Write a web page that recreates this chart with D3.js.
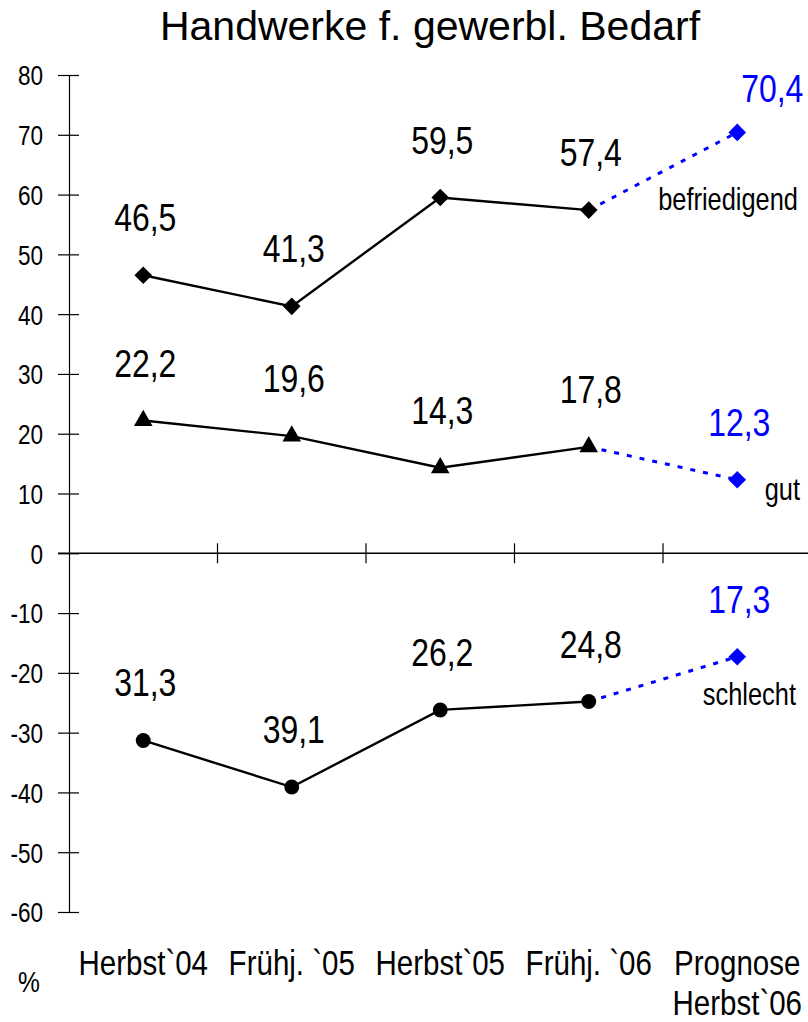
<!DOCTYPE html>
<html><head><meta charset="utf-8">
<script src="https://cdn.jsdelivr.net/npm/d3@7"></script>
<style>
html,body{margin:0;padding:0;background:#fff;}
svg{display:block;}
text{font-family:"Liberation Sans",Arial,sans-serif;}
</style></head>
<body>
<svg id="c" width="808" height="1022"></svg>
<script>
// ---- data ----
const title = "Handwerke f. gewerbl. Bedarf";
const categories = ["Herbst`04", "Frühj. `05", "Herbst`05", "Frühj. `06", "Prognose|Herbst`06"];
const seriesNames = ["befriedigend", "gut", "schlecht"];
const befriedigend = [46.5, 41.3, 59.5, 57.4, 70.4];
const gut = [22.2, 19.6, 14.3, 17.8, 12.3];
const schlecht = [-31.3, -39.1, -26.2, -24.8, -17.3];
const yTicks = [80, 70, 60, 50, 40, 30, 20, 10, 0, -10, -20, -30, -40, -50, -60];
const unitLabel = "%";

// ---- layout ----
const svg = d3.select("#c");
const W = 808;
const SX = 0.82; // narrow font emulation
const x = d3.scaleBand().domain(categories).range([69, 811.5]).paddingInner(0).paddingOuter(0);
const y = d3.scaleLinear().domain([-60, 80]).range([912, 75]);
const cx = c => x(c) + x.bandwidth() / 2;
const fmt = v => d3.format(".1f")(Math.abs(v)).replace(".", ",");

function ntext(parent, px, py, str, size, anchor, fill) {
  return parent.append("text")
    .attr("transform", `translate(${px},${py}) scale(${SX},1)`)
    .attr("text-anchor", anchor).attr("font-size", size).attr("fill", fill || "#000")
    .text(str);
}

const markerType = [
  d3.symbol().type(d3.symbolSquare).size(155),
  d3.symbol().type(d3.symbolTriangle).size(150),
  d3.symbol().type(d3.symbolCircle).size(175)
];
const markerRot = [45, 0, 0];
const blueDiamond = d3.symbol().type(d3.symbolSquare).size(155);

// title
svg.append("text").attr("x", 430).attr("y", 40).attr("text-anchor", "middle")
  .attr("font-size", 41).attr("fill", "#000").text(title);

// y axis
const yAxis = d3.axisLeft(y).tickValues(yTicks).tickSize(10).tickSizeOuter(0)
  .tickFormat(d => String(d));
const gy = svg.append("g").attr("transform", "translate(69,0)").call(yAxis);
gy.attr("font-family", null).attr("font-size", null);
gy.select(".domain").attr("stroke", "#000").attr("stroke-width", 1.2);
gy.selectAll(".tick line").attr("x1", -11).attr("x2", 10).attr("stroke", "#000").attr("stroke-width", 1.2);
gy.selectAll(".tick text").attr("x", null).attr("dy", "0.36em")
  .attr("transform", `translate(-26,0) scale(${SX},1)`)
  .attr("text-anchor", "end").attr("font-size", 27.5).attr("fill", "#000");

// x axis at zero
const y0 = y(0);
svg.append("line").attr("x1", 58).attr("x2", W).attr("y1", y0).attr("y2", y0)
  .attr("stroke", "#000").attr("stroke-width", 1.4);
svg.append("g").selectAll("line").data(categories.slice(1)).join("line")
  .attr("x1", d => x(d)).attr("x2", d => x(d))
  .attr("y1", y0 - 10).attr("y2", y0 + 10)
  .attr("stroke", "#000").attr("stroke-width", 1.2);

// category labels
const catG = svg.append("g");
categories.forEach(c => {
  c.split("|").forEach((p, i) => ntext(catG, cx(c), 975 + i * 40, p, 36, "middle"));
});
ntext(svg, 29, 992, unitLabel, 30, "middle");

// series
const allSeries = [befriedigend, gut, schlecht];
const line = d3.line().x((d, i) => cx(categories[i])).y(d => y(d));
const nameOffset = [[798, 78], [800, 20], [796, 48]];
allSeries.forEach((vals, si) => {
  const g = svg.append("g");
  g.append("path").datum(vals.slice(0, 4)).attr("d", line)
    .attr("fill", "none").attr("stroke", "#000").attr("stroke-width", 2.4);
  g.append("path").datum([vals[3], vals[4]])
    .attr("d", d3.line().x((d, i) => cx(categories[3 + i])).y(d => y(d)))
    .attr("fill", "none").attr("stroke", "#0000FF").attr("stroke-width", 3)
    .attr("stroke-dasharray", "5,8");
  vals.forEach((v, i) => {
    const isProg = i === 4;
    g.append("path")
      .attr("d", isProg ? blueDiamond() : markerType[si]())
      .attr("transform", `translate(${cx(categories[i])},${y(v)}) rotate(${isProg ? 45 : markerRot[si]})`)
      .attr("fill", isProg ? "#0000FF" : "#000");
  });
  vals.forEach((v, i) => {
    const isProg = i === 4;
    let ly = y(v) - 44;
    let lx = cx(categories[i]) + 2;
    if (ly < 102) { lx += 33; ly = 102; }
    ntext(g, lx, ly, fmt(v), 39, "middle", isProg ? "#0000FF" : "#000");
  });
  ntext(g, nameOffset[si][0], y(vals[4]) + nameOffset[si][1], seriesNames[si], 31, "end");
});
</script>
</body></html>
